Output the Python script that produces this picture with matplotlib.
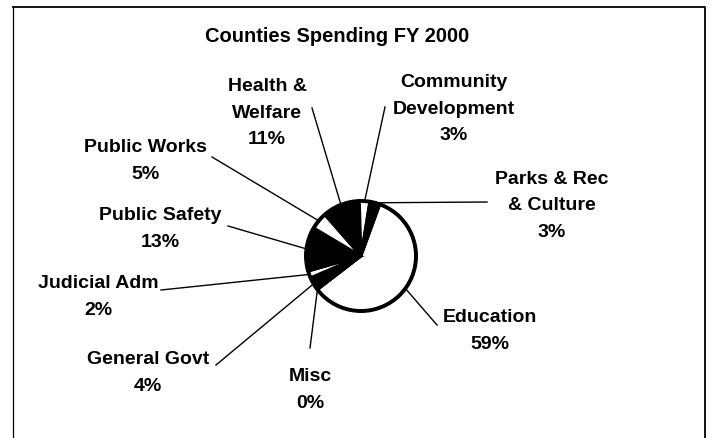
import numpy as np
import matplotlib
matplotlib.use("Agg")
from matplotlib import pyplot as plt

plt.rcParams['font.family'] = ['Liberation Sans', 'DejaVu Sans']

# slices in clockwise order, starting at the top-right edge of Education
categories = ["Education", "Misc", "General Govt", "Judicial Adm", "Public Safety",
              "Public Works", "Health &\nWelfare", "Community\nDevelopment",
              "Parks & Rec\n& Culture"]
shares = [59, 0, 4, 2, 13, 5, 11, 3, 3]
fills = ["white", "black", "black", "white", "black", "white", "black", "white", "black"]

# label text centre and where its leader line starts (pixels, y down)
label_pos = {
    "Education": (490, 331, (437, 325)),
    "Misc": (310, 390, (310, 348)),
    "General Govt": (148, 373, (216, 365)),
    "Judicial Adm": (98, 297, (161, 290)),
    "Public Safety": (160, 229, (228, 226)),
    "Public Works": (145, 161, (212, 157)),
    "Health &\nWelfare": (267, 113, (312, 108)),
    "Community\nDevelopment": (454, 109, (385, 107)),
    "Parks & Rec\n& Culture": (552, 206, (487, 202)),
}

W, H = 712, 438
fig = plt.figure(figsize=(W / 100, H / 100), dpi=100)
ax = fig.add_axes([0, 0, 1, 1])

cx, cy, r = 361, 256, 55
start = 70
wedges, _ = ax.pie(shares, colors=fills, startangle=start, counterclock=False,
                   center=(cx, -cy), radius=r,
                   wedgeprops=dict(edgecolor="black", linewidth=2.0))
# thick outline around the whole pie
ax.add_patch(plt.Circle((cx, -cy), r, fill=False, edgecolor="black", linewidth=2.8))

total = float(sum(shares))
ang = start
for name, s in zip(categories, shares):
    span = 360.0 * s / total
    mid = np.deg2rad(ang - span / 2.0)
    ang -= span
    ex, ey = cx + r * np.cos(mid), -cy + r * np.sin(mid)
    tx, ty, (lx, ly) = label_pos[name]
    ax.plot([lx, ex], [-ly, ey], color="black", linewidth=1.0)
    ax.text(tx, -ty, "%s\n%d%%" % (name, s), ha="center", va="center",
            fontsize=14, fontweight="bold", linespacing=1.75)

ax.text(205, -37, "Counties Spending FY 2000", ha="left", va="center",
        fontsize=14.5, fontweight="bold")

# frame
ax.plot([13, 705, 705], [-7, -7, -438], color="black", linewidth=1.3)
ax.plot([13, 13], [-7, -438], color="black", linewidth=0.9)

ax.set_xlim(0, W)
ax.set_ylim(-H, 0)
ax.set_aspect("auto")
ax.axis("off")
fig.savefig("out.png", dpi=100)
